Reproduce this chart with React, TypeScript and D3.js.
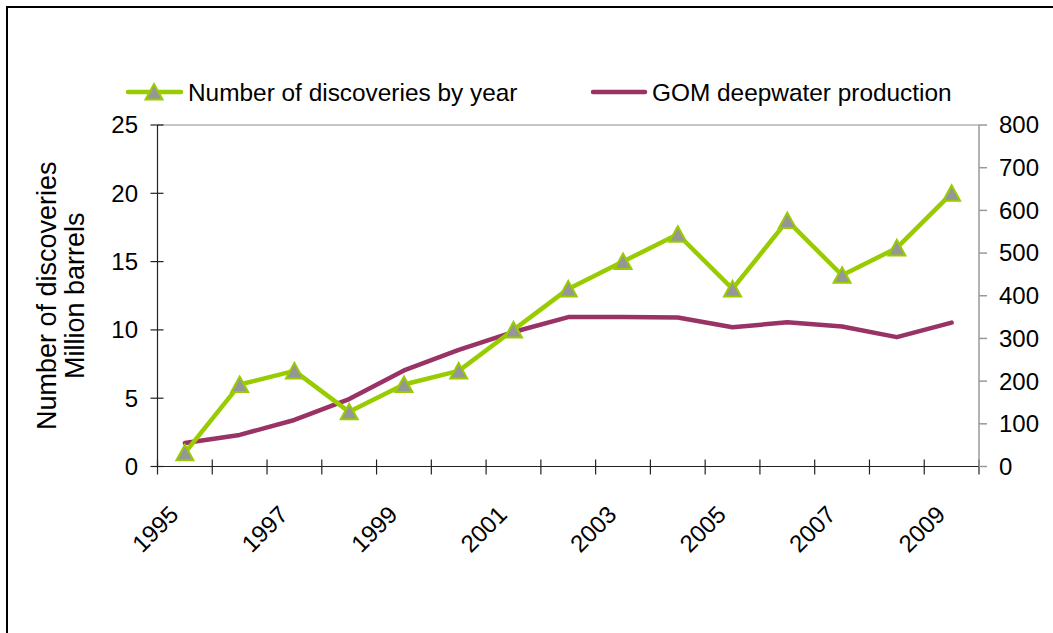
import React, { useEffect, useRef } from 'react'
import * as d3 from 'd3'

const years = ['1995', '1996', '1997', '1998', '1999', '2000', '2001', '2002', '2003', '2004', '2005', '2006', '2007', '2008', '2009']
const discoveries = [1, 6, 7, 4, 6, 7, 10, 13, 15, 17, 13, 18, 14, 16, 20]
const production = [55, 74, 109, 158, 225, 273, 315, 350, 350, 349, 326, 338, 328, 303, 337]
const leftTicks = [0, 5, 10, 15, 20, 25]
const rightTicks = [0, 100, 200, 300, 400, 500, 600, 700, 800]

const GREEN = '#99cc00'
const PURPLE = '#993366'
const FONT = '"Liberation Sans", Arial, sans-serif'

export default function App() {
  const svgRef = useRef<SVGSVGElement>(null)

  useEffect(() => {
    if (!svgRef.current) return
    const svg = d3.select(svgRef.current)
    svg.selectAll('*').remove()

    const width = 1053
    const height = 633
    const plot = { left: 157.5, right: 979, top: 125, bottom: 466.5 }

    // frame
    svg.append('rect')
      .attr('x', 7).attr('y', 7)
      .attr('width', width + 100).attr('height', height + 100)
      .attr('fill', 'white')
      .attr('stroke', 'black')
      .attr('stroke-width', 2)

    const x = d3.scaleBand().domain(years).range([plot.left, plot.right]).padding(0)
    const cx = (d: string) => (x(d) || 0) + x.bandwidth() / 2
    const yL = d3.scaleLinear().domain([0, 25]).range([plot.bottom, plot.top])
    const yR = d3.scaleLinear().domain([0, 800]).range([plot.bottom, plot.top])

    // top border of plot area
    svg.append('line')
      .attr('x1', plot.left).attr('x2', plot.right)
      .attr('y1', plot.top).attr('y2', plot.top)
      .attr('stroke', '#b3b3b3').attr('stroke-width', 1.5)

    // left axis
    const gl = svg.append('g')
    gl.append('line')
      .attr('x1', plot.left).attr('x2', plot.left)
      .attr('y1', plot.top).attr('y2', plot.bottom)
      .attr('stroke', '#222').attr('stroke-width', 1.2)
    gl.selectAll('line.tick')
      .data(leftTicks)
      .join('line')
      .attr('class', 'tick')
      .attr('x1', plot.left - 7).attr('x2', plot.left + 6)
      .attr('y1', (d) => yL(d)).attr('y2', (d) => yL(d))
      .attr('stroke', '#222').attr('stroke-width', 1.2)
    gl.selectAll('text')
      .data(leftTicks)
      .join('text')
      .attr('x', 138)
      .attr('y', (d) => yL(d))
      .attr('dy', '0.35em')
      .attr('text-anchor', 'end')
      .style('font-family', FONT)
      .style('font-size', '24px')
      .style('fill', '#000')
      .text((d) => d)

    // bottom axis
    const gb = svg.append('g')
    const bounds = years.map((d) => x(d) || 0).concat([plot.right])
    gb.append('line')
      .attr('x1', plot.left).attr('x2', plot.right)
      .attr('y1', plot.bottom).attr('y2', plot.bottom)
      .attr('stroke', '#222').attr('stroke-width', 1.2)
    gb.selectAll('line.tick')
      .data(bounds)
      .join('line')
      .attr('class', 'tick')
      .attr('x1', (d) => d).attr('x2', (d) => d)
      .attr('y1', plot.bottom - 7).attr('y2', plot.bottom + 8)
      .attr('stroke', '#222').attr('stroke-width', 1.2)
    gb.selectAll('text')
      .data(years.filter((d, i) => i % 2 === 0))
      .join('text')
      .attr('text-anchor', 'end')
      .attr('transform', (d) => `translate(${cx(d) - 5},516) rotate(-45)`)
      .style('font-family', FONT)
      .style('font-size', '24px')
      .style('fill', '#000')
      .text((d) => d)

    // right axis
    const gr = svg.append('g')
    gr.append('line')
      .attr('x1', plot.right).attr('x2', plot.right)
      .attr('y1', plot.top).attr('y2', plot.bottom)
      .attr('stroke', '#999').attr('stroke-width', 1.5)
    gr.selectAll('line.tick')
      .data(rightTicks)
      .join('line')
      .attr('class', 'tick')
      .attr('x1', plot.right).attr('x2', plot.right + 8)
      .attr('y1', (d) => yR(d)).attr('y2', (d) => yR(d))
      .attr('stroke', '#999').attr('stroke-width', 1.5)
    gr.selectAll('text')
      .data(rightTicks)
      .join('text')
      .attr('x', 999)
      .attr('y', (d) => yR(d))
      .attr('dy', '0.35em')
      .style('font-family', FONT)
      .style('font-size', '24px')
      .style('fill', '#000')
      .text((d) => d)

    // y title
    const title = svg.append('text')
      .attr('transform', `translate(56,${(plot.top + plot.bottom) / 2}) rotate(-90)`)
      .attr('text-anchor', 'middle')
      .style('font-family', FONT)
      .style('font-size', '27px')
      .style('fill', '#000')
    title.append('tspan').attr('x', 0).attr('y', 0).text('Number of discoveries')
    title.append('tspan').attr('x', 0).attr('y', 28).text('Million barrels')

    // production line
    const lineR = d3.line<number>()
      .x((d, i) => cx(years[i]))
      .y((d) => yR(d))
    svg.append('path')
      .datum(production)
      .attr('d', lineR)
      .attr('fill', 'none')
      .attr('stroke', PURPLE)
      .attr('stroke-width', 4.5)
      .attr('stroke-linejoin', 'round')
      .attr('stroke-linecap', 'round')

    // discoveries line
    const lineL = d3.line<number>()
      .x((d, i) => cx(years[i]))
      .y((d) => yL(d))
    svg.append('path')
      .datum(discoveries)
      .attr('d', lineL)
      .attr('fill', 'none')
      .attr('stroke', GREEN)
      .attr('stroke-width', 4.5)
      .attr('stroke-linejoin', 'round')

    const tri = 'M0,-8L8.5,7.5L-8.5,7.5Z'
    svg.selectAll('path.marker')
      .data(discoveries)
      .join('path')
      .attr('class', 'marker')
      .attr('d', tri)
      .attr('transform', (d, i) => `translate(${cx(years[i])},${yL(d)})`)
      .attr('fill', '#969696')
      .attr('stroke', GREEN)
      .attr('stroke-width', 2)

    // legend
    const lg = svg.append('g')
    lg.append('line')
      .attr('x1', 128).attr('x2', 181).attr('y1', 92).attr('y2', 92)
      .attr('stroke', GREEN).attr('stroke-width', 4.5).attr('stroke-linecap', 'round')
    lg.append('path')
      .attr('d', tri)
      .attr('transform', 'translate(154,92)')
      .attr('fill', '#969696')
      .attr('stroke', GREEN)
      .attr('stroke-width', 2)
    lg.append('text')
      .attr('x', 188).attr('y', 101)
      .style('font-family', FONT).style('font-size', '24.4px').style('fill', '#000')
      .text('Number of discoveries by year')
    lg.append('line')
      .attr('x1', 593).attr('x2', 645).attr('y1', 92).attr('y2', 92)
      .attr('stroke', PURPLE).attr('stroke-width', 4.5).attr('stroke-linecap', 'round')
    lg.append('text')
      .attr('x', 652).attr('y', 101)
      .style('font-family', FONT).style('font-size', '24.4px').style('fill', '#000')
      .text('GOM deepwater production')
  }, [])

  return (
    <svg
      ref={svgRef}
      width={1053}
      height={633}
      style={{ position: 'absolute', left: 0, top: 0, background: 'white' }}
    />
  )
}
